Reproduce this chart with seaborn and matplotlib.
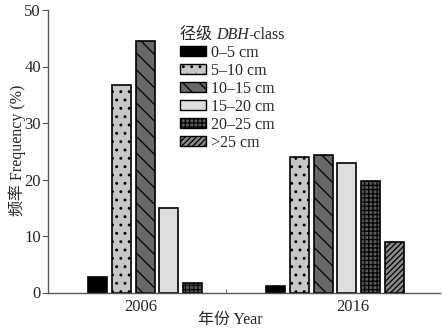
import numpy as np
import pandas as pd
import matplotlib
matplotlib.use("Agg")
import matplotlib.pyplot as plt
from matplotlib.patches import Patch
import seaborn as sns

years = ["2006", "2016"]
classes = ["0–5 cm", "5–10 cm", "10–15 cm", "15–20 cm", "20–25 cm", ">25 cm"]
freq_2006 = [2.8, 36.7, 44.6, 15.0, 1.6, 0.0]
freq_2016 = [1.2, 23.9, 24.4, 22.9, 19.7, 9.0]

face_colors = ["#000000", "#c8c6c8", "#686868", "#dedede", "#5a5a5a", "#8a8a8a"]
hatches = [None, "..", "\\\\", None, "++++", "//////"]

df = pd.DataFrame({
    "Year": np.repeat(years, len(classes)),
    "Class": classes * len(years),
    "Frequency": freq_2006 + freq_2016,
})

sns.set_style("ticks")
plt.rcParams["font.family"] = ["Liberation Serif", "Noto Sans CJK SC"]
plt.rcParams["hatch.linewidth"] = 0.9

FS = 11.5

fig = plt.figure(figsize=(4.42, 3.28), dpi=100)
ax = fig.add_axes([48 / 442, 1 - 292.5 / 328, 392 / 442, 282.5 / 328])

sns.barplot(data=df, x="Year", y="Frequency", hue="Class", order=years,
            hue_order=classes, palette=face_colors, width=0.8, gap=0.2,
            edgecolor="black", linewidth=1.2, legend=False, ax=ax)

for cont, h, fc in zip(ax.containers, hatches, face_colors):
    for bar in cont.patches:
        bar.set_facecolor(fc)
        bar.set_edgecolor("black")
        if h:
            bar.set_hatch(h)
        if bar.get_height() == 0:
            bar.set_visible(False)

ax.set_xlim(-0.612, 1.59)
ax.set_ylim(0, 50)
ax.set_yticks([0, 10, 20, 30, 40, 50])
ax.set_xticks([-0.09, 1.10])
ax.set_xticklabels(years)
ax.set_xticks([0.39, 1.39], minor=True)
ax.tick_params(axis="x", which="major", length=0, pad=5, labelsize=12)
ax.tick_params(axis="x", which="minor", direction="in", length=3, color="#555555")
ax.tick_params(axis="y", direction="out", length=4, pad=1, labelsize=12, color="#555555")

for side in ["top", "right"]:
    ax.spines[side].set_visible(False)
for side in ["left", "bottom"]:
    ax.spines[side].set_color("#555555")
    ax.spines[side].set_linewidth(1.0)

ax.set_xlabel("年份 Year", fontsize=FS)
ax.set_ylabel("频率 Frequency (%)", fontsize=FS)
ax.xaxis.set_label_coords((230 - 48) / 392, -0.069)
ax.yaxis.set_label_coords((26 - 48) / 392, 0.504)

handles = [Patch(facecolor=fc, edgecolor="black", hatch=h, linewidth=1.0)
           for fc, h in zip(face_colors, hatches)]
leg = fig.legend(handles, classes, title="径级 ",
                 loc="upper left", bbox_to_anchor=(180 / 442, 1 - 27 / 328),
                 frameon=False, fontsize=FS, title_fontsize=FS,
                 handlelength=1.6, handleheight=0.6, handletextpad=0.35,
                 labelspacing=0.12, borderpad=0, borderaxespad=0,
                 alignment="left")

# italic DBH and the rest of the legend title, placed after the Chinese part
fig.canvas.draw()
renderer = fig.canvas.get_renderer()
tb = leg.get_title().get_window_extent(renderer)
base_y = leg.get_title().get_transform().transform(leg.get_title().get_position())[1]
t_dbh = fig.text(tb.x1 / fig.bbox.width, tb.y0 / fig.bbox.height, "DBH",
                 fontsize=FS, style="italic", va="bottom", ha="left")
fig.canvas.draw()
db = t_dbh.get_window_extent(renderer)
fig.text(db.x1 / fig.bbox.width, tb.y0 / fig.bbox.height, "-class",
         fontsize=FS, va="bottom", ha="left")

fig.savefig("out.png", dpi=100)
